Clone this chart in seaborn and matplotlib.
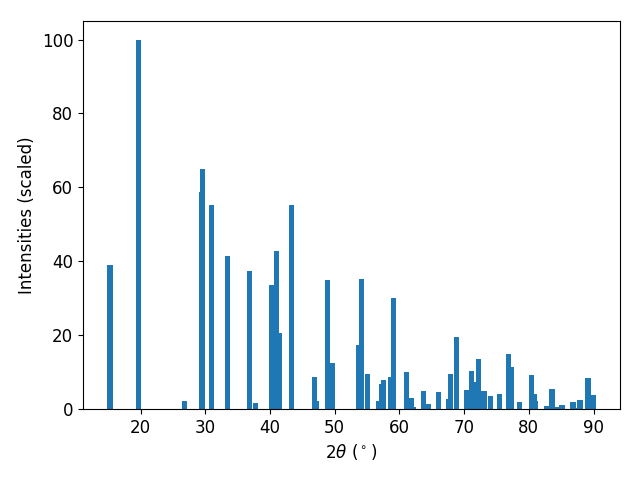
import numpy as np
import matplotlib
matplotlib.use("Agg")
import matplotlib.pyplot as plt
import pandas as pd
import seaborn as sns

# peak positions (2theta, deg) and scaled intensities
two_theta = [15.28, 19.74, 26.74, 29.39, 29.52, 30.92, 33.47, 36.88, 37.81,
             40.21, 40.98, 41.45, 43.31, 46.87, 47.18, 48.88, 49.66, 53.70,
             54.15, 55.08, 56.80, 57.26, 57.56, 58.66, 59.10, 61.12, 61.91,
             62.22, 63.75, 64.53, 66.08, 67.64, 67.92, 68.78, 70.41, 71.18,
             71.97, 72.27, 73.06, 74.13, 75.52, 76.84, 77.37, 78.54, 80.40,
             80.86, 81.02, 82.80, 83.57, 84.43, 85.12, 86.83, 87.37, 87.91,
             89.01, 89.15, 89.92]
intensity = [39.0, 100.0, 2.2, 58.8, 65.0, 55.3, 41.5, 37.4, 1.6,
             33.6, 42.8, 20.6, 55.3, 8.7, 2.2, 35.0, 12.5, 17.3,
             35.2, 9.5, 2.2, 6.8, 7.9, 8.7, 30.1, 10.0, 3.0,
             0.5, 4.9, 1.4, 4.6, 2.7, 9.5, 19.5, 5.1, 10.3,
             7.3, 13.5, 4.9, 3.5, 4.1, 14.9, 11.4, 1.9, 9.2,
             4.1, 2.2, 0.8, 5.4, 0.5, 1.1, 1.9, 0.3, 2.4,
             7.9, 8.4, 3.8]

peaks = pd.DataFrame({"two_theta": two_theta, "intensity": intensity})

plt.rcParams["font.size"] = 12

fig, ax = plt.subplots(figsize=(6.4, 4.8), dpi=100)

# bars 0.8 deg wide on the native 2theta scale
unit = np.diff(np.unique(two_theta)).min()
sns.barplot(x="two_theta", y="intensity", data=peaks, native_scale=True,
            width=0.8 / unit, color="#1f77b4", saturation=1, errorbar=None,
            linewidth=0, ax=ax)

ax.set_xlabel(r"$2\theta$ ($^\circ$)")
ax.set_ylabel("Intensities (scaled)")
fig.subplots_adjust(left=0.1297, right=0.9688, top=0.956, bottom=0.148)

plt.savefig("out.png")
